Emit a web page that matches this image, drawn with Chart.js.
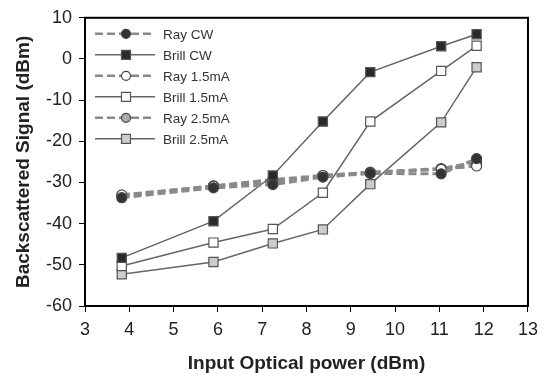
<!DOCTYPE html>
<html>
<head>
<meta charset="utf-8">
<script src="https://cdn.jsdelivr.net/npm/chart.js@4"></script>
<style>
  body { margin: 0; background: #fff; }
  canvas { display: block; }
</style>
</head>
<body>
<canvas id="chart1" width="545" height="376"></canvas>
<script>
// input power (dBm)
var power = [3.83, 5.9, 7.24, 8.37, 9.44, 11.04, 11.84];

var rayCW     = [-33.7, -31.3, -30.5, -28.7, -27.8, -27.9, -24.2];
var brillCW   = [-48.3, -39.4, -28.3, -15.2, -3.2, 3.1, 6.0];
var ray15     = [-33.0, -30.9, -29.8, -28.3, -27.6, -26.8, -26.0];
var brill15   = [-50.3, -44.6, -41.3, -32.5, -15.2, -2.9, 3.2];
var ray25     = [-33.2, -30.8, -29.3, -28.3, -27.5, -26.6, -25.1];
var brill25   = [-52.3, -49.3, -44.8, -41.4, -30.4, -15.4, -2.0];

var ctx = document.getElementById("chart1");

function pts(ys) {
    return ys.map(function (y, i) { return { x: power[i], y: y }; });
}

function raySet(label, ys, fill) {
    return {
        label: label,
        data: pts(ys),
        borderColor: '#8a8a8a',
        borderWidth: 3,
        borderDash: [8, 4],
        pointStyle: 'circle',
        pointRadius: 5,
        pointBorderWidth: 1.2,
        pointBorderColor: '#444',
        pointBackgroundColor: fill,
        fill: false,
        tension: 0
    };
}

function brillSet(label, ys, fill) {
    return {
        label: label,
        data: pts(ys),
        borderColor: '#666',
        borderWidth: 1.5,
        pointStyle: 'rect',
        pointRadius: 6.5,
        pointBorderWidth: 1.2,
        pointBorderColor: '#555',
        pointBackgroundColor: fill,
        fill: false,
        tension: 0
    };
}

var data = {
    datasets: [
        raySet('Ray CW', rayCW, '#333'),
        brillSet('Brill CW', brillCW, '#2a2a2a'),
        raySet('Ray 1.5mA', ray15, '#fff'),
        brillSet('Brill 1.5mA', brill15, '#fff'),
        raySet('Ray 2.5mA', ray25, '#aaa'),
        brillSet('Brill 2.5mA', brill25, '#ccc')
    ]
};

// legend inside the plot, with line + marker like the original
var innerLegend = {
    id: 'innerLegend',
    afterDraw: function (chart) {
        var c = chart.ctx, a = chart.chartArea;
        c.save();
        c.strokeStyle = '#000';
        c.lineWidth = 2;
        c.strokeRect(a.left, a.top, a.right - a.left, a.bottom - a.top);
        chart.data.datasets.forEach(function (ds, i) {
            var y = a.top + 16 + i * 21;
            var x0 = a.left + 10, x1 = a.left + 70, xm = a.left + 41;
            c.strokeStyle = ds.borderColor;
            c.lineWidth = ds.borderDash ? 2.5 : 1.5;
            c.setLineDash(ds.borderDash || []);
            c.beginPath();
            c.moveTo(x0, y);
            c.lineTo(x1, y);
            c.stroke();
            c.setLineDash([]);
            c.fillStyle = ds.pointBackgroundColor;
            c.strokeStyle = ds.pointBorderColor;
            c.lineWidth = 1.2;
            c.beginPath();
            if (ds.pointStyle === 'circle') {
                c.arc(xm, y, 4.5, 0, Math.PI * 2);
            } else {
                c.rect(xm - 4.5, y - 4.5, 9, 9);
            }
            c.fill();
            c.stroke();
            c.fillStyle = '#333';
            c.font = '13.5px "Liberation Sans", Arial, sans-serif';
            c.textBaseline = 'middle';
            c.fillText(ds.label, a.left + 78, y + 1);
        });
        c.restore();
    }
};

var tickFont = { family: '"Liberation Sans", Arial, sans-serif', size: 18 };
var titleFont = { family: '"Liberation Sans", Arial, sans-serif', size: 19, weight: 'bold' };

var options = {
    responsive: false,
    animation: false,
    layout: { padding: { top: 16, right: 17, left: 0, bottom: 0 } },
    plugins: {
        legend: { display: false },
        tooltip: { enabled: false }
    },
    scales: {
        x: {
            type: 'linear',
            min: 3,
            max: 13,
            afterFit: function (s) { s.height = 70; },
            ticks: { stepSize: 1, color: '#222', font: tickFont, padding: 7 },
            grid: { drawOnChartArea: false, drawTicks: true, tickLength: 6, color: '#000' },
            border: { display: true, color: '#000', width: 2 },
            title: { display: true, text: 'Input Optical power (dBm)', color: '#222', font: titleFont, padding: { bottom: 1 } }
        },
        y: {
            min: -60,
            max: 10,
            afterFit: function (s) { s.width = 85; },
            ticks: { stepSize: 10, color: '#222', font: tickFont, padding: 7 },
            grid: { drawOnChartArea: false, drawTicks: true, tickLength: 6, color: '#000' },
            border: { display: true, color: '#000', width: 2 },
            title: { display: true, text: 'Backscattered Signal (dBm)', color: '#222', font: titleFont, padding: { top: 12 } }
        }
    }
};

var chart1 = new Chart(ctx, {
    type: 'line',
    data: data,
    options: options,
    plugins: [innerLegend]
});
</script>
</body>
</html>
